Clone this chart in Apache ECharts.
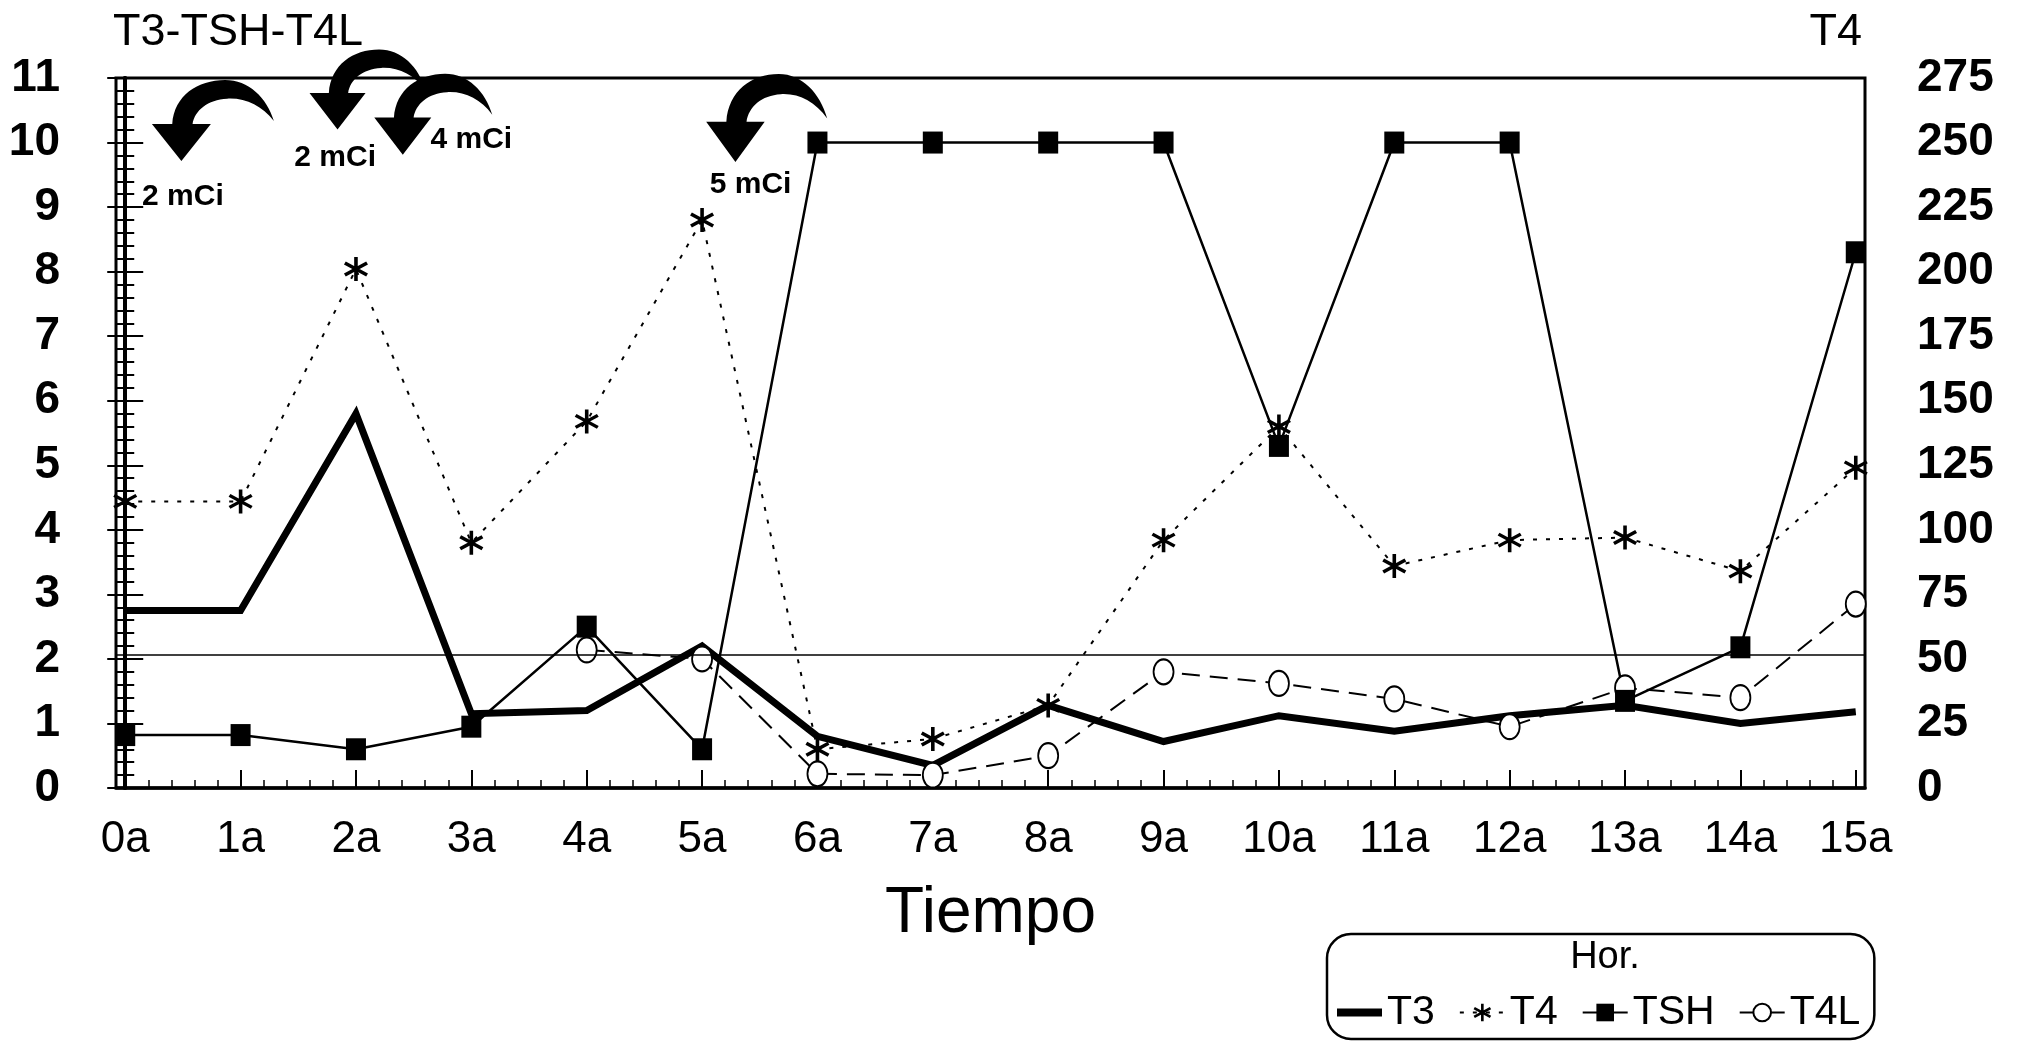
<!DOCTYPE html>
<html><head><meta charset="utf-8">
<script src="https://cdn.jsdelivr.net/npm/echarts@6/dist/echarts.min.js"></script>
<style>html,body{margin:0;padding:0;background:#fff}#c{width:2020px;height:1043px}</style>
</head><body><div id="c"></div>
<script>
// ---- data ----
const categories = ['0a','1a','2a','3a','4a','5a','6a','7a','8a','9a','10a','11a','12a','13a','14a','15a'];
const t3  = [2.75, 2.75, 5.8, 1.15, 1.2, 2.2, 0.8, 0.35, 1.28, 0.72, 1.12, 0.88, 1.12, 1.28, 1.0, 1.18];
const t4  = [111, 111, 201, 95, 142, 220, 15, 19, 32, 96, 140, 86, 96, 97, 84, 124];
const tsh = [0.82, 0.82, 0.6, 0.95, 2.5, 0.6, 10, 10, 10, 10, 5.3, 10, 10, 1.35, 2.18, 8.3];
const t4l = [null, null, null, null, 2.14, 2.0, 0.22, 0.2, 0.5, 1.8, 1.62, 1.38, 0.95, 1.55, 1.4, 2.85];
const referenceLevel = 2.07;
const doseLabels = ['2 mCi', '2 mCi', '4 mCi', '5 mCi'];
const leftTitle = 'T3-TSH-T4L', rightTitle = 'T4', xTitle = 'Tiempo', legendTitle = 'Hor.';
const leftAxisMax = 11, leftAxisStep = 1;
const rightAxisMax = 275, rightAxisStep = 25;
const xTickValues = categories.map((c, i) => i);

// ---- helpers ----
const FONT = "'Liberation Sans', Arial, Helvetica, sans-serif";
const pairs = arr => arr.map((v, i) => [i, v]).filter(p => p[1] !== null);
const minorX = [];
for (let i = 0; i < categories.length - 1; i++) for (let k = 1; k < 5; k++) minorX.push(i + k / 5);

const starPath = 'path://M43 0L57 0L57 100L43 100Z M3.2 31.06L10.2 18.94L96.8 68.94L89.8 81.06Z M10.2 81.06L3.2 68.94L89.8 18.94L96.8 31.06Z';
const arrowPath = 'path://M0 47 L20 47 C22 18 45 2 72 2 C95 2 113 20 120 44 C108 28 92 20 74 21 C55 22 42 33 40 47 L58 47 L29 85 Z';

const arrowPos = [[0.76, 10.34], [2.1, 10.82], [2.67, 10.44], [5.56, 10.38]];
const arrowSize = [[122, 81], [116, 80], [118, 81], [121, 88]];
const labelPos = [[0.5, 9.16], [1.82, 9.76], [3.0, 10.04], [5.42, 9.34]];

const markData = [];
arrowPos.forEach((p, i) => markData.push({
  coord: p, symbol: arrowPath, symbolSize: arrowSize[i],
  itemStyle: { color: '#000' }, label: { show: false }
}));
labelPos.forEach((p, i) => markData.push({
  coord: p, symbol: 'circle', symbolSize: 1,
  itemStyle: { color: 'rgba(0,0,0,0)' },
  label: { show: true, position: 'inside', formatter: doseLabels[i], color: '#000', fontSize: 30, fontWeight: 'bold', fontFamily: FONT }
}));

const chart = echarts.init(document.getElementById('c'), null, { renderer: 'canvas' });
chart.setOption({
  animation: false,
  backgroundColor: '#fff',
  grid: { left: 116, right: 155, top: 78, bottom: 255, show: true, borderColor: '#000', borderWidth: 3, backgroundColor: 'transparent' },
  xAxis: [
    {
      type: 'value', min: -0.08, max: 15.08, position: 'bottom',
      axisLine: { show: true, lineStyle: { color: '#000', width: 3.5 } },
      axisTick: { show: true, inside: true, length: 18, customValues: xTickValues, lineStyle: { color: '#000', width: 2 } },
      axisLabel: { show: true, customValues: xTickValues, formatter: v => categories[Math.round(v)], margin: 30, fontSize: 44, color: '#000', fontFamily: FONT },
      splitLine: { show: false },
      name: xTitle, nameLocation: 'middle', nameGap: 126,
      nameTextStyle: { fontSize: 64, color: '#000', fontFamily: FONT, verticalAlign: 'middle' }
    },
    {
      type: 'value', min: -0.08, max: 15.08, position: 'bottom',
      axisLine: { show: false },
      axisTick: { show: true, inside: true, length: 8, customValues: minorX, lineStyle: { color: '#000', width: 1.5 } },
      axisLabel: { show: false }, splitLine: { show: false }
    }
  ],
  yAxis: [
    {
      type: 'value', min: 0, max: leftAxisMax, interval: leftAxisStep, position: 'left',
      axisLine: { show: true, lineStyle: { color: '#000', width: 4 } },
      axisTick: { show: true, inside: true, length: 18, lineStyle: { color: '#000', width: 2 } },
      minorTick: { show: true, splitNumber: 5, length: 9, lineStyle: { color: '#000', width: 2 } },
      axisLabel: { margin: 56, fontSize: 46, fontWeight: 'bold', color: '#000', fontFamily: FONT },
      splitLine: { show: false }
    },
    {
      type: 'value', min: 0, max: rightAxisMax, interval: rightAxisStep, position: 'right',
      axisLine: { show: true, lineStyle: { color: '#000', width: 4 } },
      axisTick: { show: true, inside: true, length: 18, lineStyle: { color: '#000', width: 2 } },
      minorTick: { show: true, splitNumber: 5, length: 9, lineStyle: { color: '#000', width: 2 } },
      axisLabel: { margin: 52, fontSize: 46, fontWeight: 'bold', color: '#000', fontFamily: FONT },
      splitLine: { show: false }
    }
  ],
  legend: {
    left: 1327, top: 934, orient: 'horizontal',
    padding: [58, 14, 6, 6], itemGap: 24, itemWidth: 45, itemHeight: 22,
    borderColor: '#000', borderWidth: 2.5, borderRadius: 24,
    textStyle: { fontSize: 41, color: '#000', fontFamily: FONT },
    data: [
      { name: 'T3', itemStyle: { color: 'rgba(0,0,0,0)', borderColor: 'rgba(0,0,0,0)' }, lineStyle: { width: 8, color: '#000' } },
      { name: 'T4' }, { name: 'TSH' }, { name: 'T4L' }
    ]
  },
  graphic: [
    { type: 'text', x: 113, y: 33, style: { text: leftTitle, font: '45px ' + FONT, fill: '#000', align: 'left', verticalAlign: 'middle' } },
    { type: 'text', x: 1862, y: 33, style: { text: rightTitle, font: '45px ' + FONT, fill: '#000', align: 'right', verticalAlign: 'middle' } },
    { type: 'text', x: 1605, y: 958, style: { text: legendTitle, font: '38px ' + FONT, fill: '#000', align: 'center', verticalAlign: 'middle' } }
  ],
  series: [
    {
      name: 'T4L', type: 'line', xAxisIndex: 0, yAxisIndex: 0, data: pairs(t4l),
      symbol: 'emptyCircle', symbolSize: [20, 25],
      lineStyle: { color: '#000', width: 2, type: [18, 10] },
      itemStyle: { color: '#000', borderColor: '#000', borderWidth: 2 }
    },
    {
      name: 'T4', type: 'line', xAxisIndex: 0, yAxisIndex: 1, data: pairs(t4),
      symbol: starPath, symbolSize: 24,
      lineStyle: { color: '#000', width: 2, type: [4, 9] },
      itemStyle: { color: '#000' }
    },
    {
      name: 'T3', type: 'line', xAxisIndex: 0, yAxisIndex: 0, data: pairs(t3),
      symbol: 'none',
      lineStyle: { color: '#000', width: 7, join: 'miter' },
      itemStyle: { color: '#000' },
      markPoint: { silent: true, data: markData }
    },
    {
      name: 'TSH', type: 'line', xAxisIndex: 0, yAxisIndex: 0, data: pairs(tsh),
      symbol: 'rect', symbolSize: [20, 22],
      lineStyle: { color: '#000', width: 2.5 },
      itemStyle: { color: '#000' },
      markLine: {
        silent: true, symbol: 'none', label: { show: false },
        lineStyle: { color: '#000', width: 1.5, type: 'solid' },
        data: [{ yAxis: referenceLevel }]
      }
    }
  ]
});
</script></body></html>
